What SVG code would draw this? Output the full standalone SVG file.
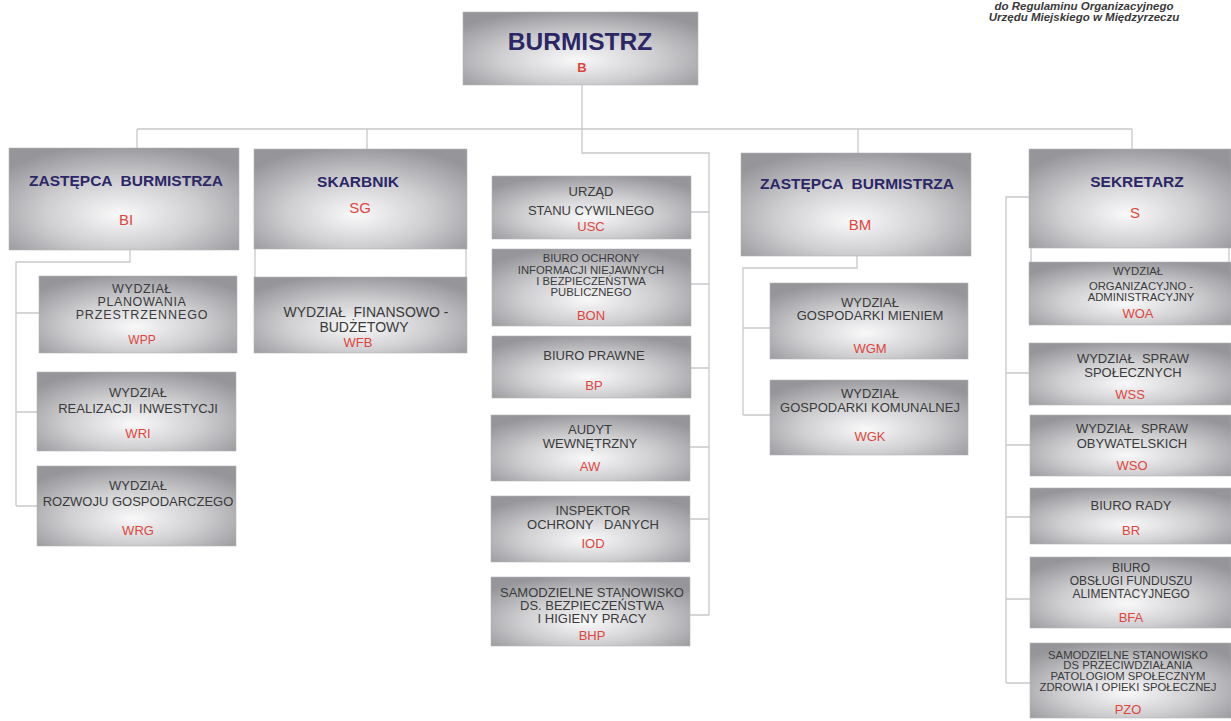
<svg xmlns="http://www.w3.org/2000/svg" width="1231" height="721" viewBox="0 0 1231 721">
<defs>
<radialGradient id="g" cx="0.5" cy="0.62" r="0.66" fx="0.48" fy="0.66">
<stop offset="0" stop-color="#f9f9fa"/>
<stop offset="0.5" stop-color="#cfcfd2"/>
<stop offset="1" stop-color="#96969a"/>
</radialGradient>
<style>
.box{fill:url(#g);stroke:#b5b5b8;stroke-width:0.6}
.c{fill:none;stroke:#c9c9cc;stroke-width:1.3}
text{font-family:"Liberation Sans",Arial,sans-serif;text-anchor:middle}
.h{font-weight:bold;fill:#2b2767;font-size:15.5px}
.t{fill:#3a3a3a;font-size:13px}
.s{fill:#3a3a3a;font-size:11.3px}
.r{fill:#de463c;font-size:13px}
.rb{fill:#de463c;font-size:15px}
.note{font-weight:bold;font-style:italic;fill:#3a3a3a;font-size:11.5px}
</style>
</defs>
<rect width="1231" height="721" fill="#ffffff"/>

<g id="note">
<text class="note" x="1084" y="10">do Regulaminu Organizacyjnego</text>
<text class="note" x="1084" y="21">Urzędu Miejskiego w Międzyrzeczu</text>
</g>

<g id="connectors">
<path class="c" d="M582 85 V153 H709 V615"/>
<path class="c" d="M137 129 H1132 M137 129 V148 M367 129 V149 M858 129 V153 M1132 129 V149"/>
<path class="c" d="M691 212 H709 M691 284 H709 M691 368 H709 M690 447 H709 M690 519 H709 M690 615 H709"/>
<path class="c" d="M130 250 V262 H16 V506 M16 313 H39 M16 412 H37 M16 506 H37"/>
<path class="c" d="M255 249 V277 M466 249 V277"/>
<path class="c" d="M857 256 V268 H743 V415 M743 328 H770 M743 415 H770"/>
<path class="c" d="M1029 197 H1006 V683 M1006 373 H1030 M1006 445 H1030 M1006 517 H1030 M1006 599 H1030 M1006 683 H1030"/>
<path class="c" d="M1031 248 V262 M1229 248 V262"/>
</g>

<g id="B">
<rect class="box" x="463" y="12" width="235" height="73"/>
<text x="580" y="50" style="font-weight:bold;fill:#2b2767;font-size:24.5px">BURMISTRZ</text>
<text x="582" y="72" style="font-weight:bold;fill:#de463c;font-size:13px">B</text>
</g>

<g id="BI">
<rect class="box" x="9" y="148" width="230" height="102"/>
<text class="h" x="126" y="186" xml:space="preserve">ZASTĘPCA  BURMISTRZA</text>
<text class="rb" x="126" y="225">BI</text>
</g>
<g id="WPP">
<rect class="box" x="39" y="276" width="198" height="77"/>
<text class="t" x="142" y="293" style="font-size:12.5px;letter-spacing:0.6px">WYDZIAŁ</text>
<text class="t" x="142" y="306" style="font-size:12.5px;letter-spacing:0.6px">PLANOWANIA</text>
<text class="t" x="142" y="319" style="font-size:12.5px;letter-spacing:0.9px">PRZESTRZENNEGO</text>
<text class="r" x="142" y="344" style="font-size:12px">WPP</text>
</g>
<g id="WRI">
<rect class="box" x="37" y="372" width="199" height="79"/>
<text class="t" x="138" y="397">WYDZIAŁ</text>
<text class="t" x="138" y="413" xml:space="preserve">REALIZACJI  INWESTYCJI</text>
<text class="r" x="138" y="438">WRI</text>
</g>
<g id="WRG">
<rect class="box" x="37" y="466" width="199" height="80"/>
<text class="t" x="138" y="490">WYDZIAŁ</text>
<text class="t" x="138" y="506">ROZWOJU GOSPODARCZEGO</text>
<text class="r" x="138" y="535">WRG</text>
</g>

<g id="SG">
<rect class="box" x="254" y="149" width="213" height="100"/>
<text class="h" x="358" y="187">SKARBNIK</text>
<text class="rb" x="360" y="213">SG</text>
</g>
<g id="WFB">
<rect class="box" x="254" y="277" width="213" height="76"/>
<text class="t" x="366" y="317" style="font-size:14px" xml:space="preserve">WYDZIAŁ  FINANSOWO -</text>
<text class="t" x="364" y="332" style="font-size:14px">BUDŻETOWY</text>
<text class="r" x="358" y="347">WFB</text>
</g>

<g id="USC">
<rect class="box" x="492" y="176" width="199" height="63"/>
<text class="t" x="591" y="196">URZĄD</text>
<text class="t" x="591" y="215">STANU CYWILNEGO</text>
<text class="r" x="591" y="231">USC</text>
</g>
<g id="BON">
<rect class="box" x="492" y="249" width="199" height="77"/>
<text class="s" x="591" y="262">BIURO OCHRONY</text>
<text class="s" x="591" y="274">INFORMACJI NIEJAWNYCH</text>
<text class="s" x="591" y="285">I BEZPIECZEŃSTWA</text>
<text class="s" x="591" y="296">PUBLICZNEGO</text>
<text class="r" x="591" y="320">BON</text>
</g>
<g id="BP">
<rect class="box" x="492" y="336" width="199" height="62"/>
<text class="t" x="594" y="360">BIURO PRAWNE</text>
<text class="r" x="594" y="390">BP</text>
</g>
<g id="AW">
<rect class="box" x="491" y="415" width="199" height="66"/>
<text class="t" x="590" y="434">AUDYT</text>
<text class="t" x="590" y="448">WEWNĘTRZNY</text>
<text class="r" x="590" y="471">AW</text>
</g>
<g id="IOD">
<rect class="box" x="491" y="496" width="199" height="66"/>
<text class="t" x="593" y="515">INSPEKTOR</text>
<text class="t" x="593" y="529" xml:space="preserve">OCHRONY   DANYCH</text>
<text class="r" x="593" y="548">IOD</text>
</g>
<g id="BHP">
<rect class="box" x="491" y="577" width="199" height="69"/>
<text class="t" x="592" y="597">SAMODZIELNE STANOWISKO</text>
<text class="t" x="592" y="610">DS. BEZPIECZEŃSTWA</text>
<text class="t" x="592" y="623">I HIGIENY PRACY</text>
<text class="r" x="592" y="640">BHP</text>
</g>

<g id="BM">
<rect class="box" x="741" y="153" width="230" height="103"/>
<text class="h" x="857" y="189" xml:space="preserve">ZASTĘPCA  BURMISTRZA</text>
<text class="rb" x="860" y="230">BM</text>
</g>
<g id="WGM">
<rect class="box" x="770" y="283" width="198" height="76"/>
<text class="t" x="870" y="307">WYDZIAŁ</text>
<text class="t" x="870" y="320">GOSPODARKI MIENIEM</text>
<text class="r" x="870" y="353">WGM</text>
</g>
<g id="WGK">
<rect class="box" x="770" y="380" width="198" height="75"/>
<text class="t" x="870" y="398">WYDZIAŁ</text>
<text class="t" x="870" y="412">GOSPODARKI KOMUNALNEJ</text>
<text class="r" x="870" y="441">WGK</text>
</g>

<g id="S">
<rect class="box" x="1029" y="149" width="202" height="99"/>
<text class="h" x="1137" y="187">SEKRETARZ</text>
<text class="rb" x="1135" y="218">S</text>
</g>
<g id="WOA">
<rect class="box" x="1029" y="262" width="202" height="63"/>
<text class="s" x="1138" y="275">WYDZIAŁ</text>
<text class="s" x="1141" y="290">ORGANIZACYJNO -</text>
<text class="s" x="1141" y="301">ADMINISTRACYJNY</text>
<text class="r" x="1138" y="318">WOA</text>
</g>
<g id="WSS">
<rect class="box" x="1029" y="343" width="202" height="62"/>
<text class="t" x="1133" y="363" xml:space="preserve">WYDZIAŁ  SPRAW</text>
<text class="t" x="1133" y="377">SPOŁECZNYCH</text>
<text class="r" x="1130" y="399">WSS</text>
</g>
<g id="WSO">
<rect class="box" x="1030" y="415" width="201" height="61"/>
<text class="t" x="1132" y="433" xml:space="preserve">WYDZIAŁ  SPRAW</text>
<text class="t" x="1132" y="448">OBYWATELSKICH</text>
<text class="r" x="1132" y="470">WSO</text>
</g>
<g id="BR">
<rect class="box" x="1030" y="488" width="201" height="56"/>
<text class="t" x="1131" y="510">BIURO RADY</text>
<text class="r" x="1131" y="535">BR</text>
</g>
<g id="BFA">
<rect class="box" x="1030" y="557" width="201" height="71"/>
<text class="t" x="1131" y="572" style="font-size:12px">BIURO</text>
<text class="t" x="1131" y="585" style="font-size:12px">OBSŁUGI FUNDUSZU</text>
<text class="t" x="1131" y="598" style="font-size:12px">ALIMENTACYJNEGO</text>
<text class="r" x="1131" y="622">BFA</text>
</g>
<g id="PZO">
<rect class="box" x="1030" y="643" width="201" height="75"/>
<text class="s" x="1128" y="659">SAMODZIELNE STANOWISKO</text>
<text class="s" x="1128" y="669">DS PRZECIWDZIAŁANIA</text>
<text class="s" x="1128" y="680">PATOLOGIOM SPOŁECZNYM</text>
<text class="s" x="1128" y="691">ZDROWIA I OPIEKI SPOŁECZNEJ</text>
<text class="r" x="1128" y="714">PZO</text>
</g>
</svg>
